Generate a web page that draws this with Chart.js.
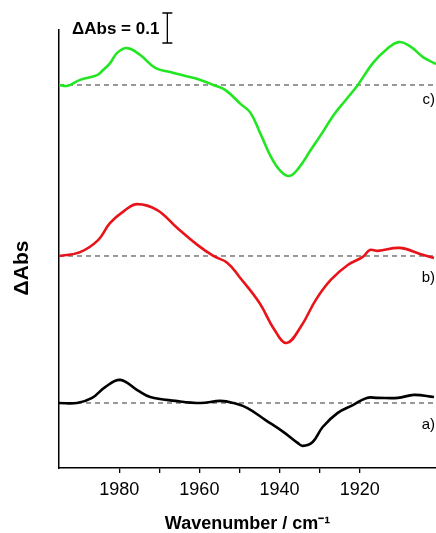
<!DOCTYPE html>
<html>
<head>
<meta charset="utf-8">
<script src="https://cdn.jsdelivr.net/npm/chart.js@4/dist/chart.umd.min.js"></script>
<style>
  html, body { margin: 0; padding: 0; background: #fff; }
  #wrap { width: 436px; height: 533px; position: relative; }
</style>
</head>
<body>
<div id="wrap"><canvas id="spectraCanvas"></canvas></div>
<script>
// trace a) black
const aWavenumber = [1995, 1990.5, 1986.75, 1983.5, 1979.75, 1975.5, 1972.25, 1966, 1959.75, 1954.75, 1951.5, 1948, 1943.5, 1939, 1935.5, 1934.25, 1931.75, 1929.25, 1925.5, 1921.75, 1918.25, 1915.5, 1910.5, 1906.5, 1901.5];
const aDelta = [0, 0, 0.017, 0.053, 0.077, 0.043, 0.02, 0.007, 0, 0.007, 0, -0.017, -0.057, -0.097, -0.133, -0.143, -0.13, -0.08, -0.033, -0.007, 0.017, 0.017, 0.017, 0.027, 0.02];

// trace b) red
const bWavenumber = [1995, 1989.75, 1985.25, 1982.25, 1978.5, 1975.5, 1970.5, 1965.5, 1960.5, 1956.5, 1953, 1950, 1945, 1941.25, 1938.25, 1934.75, 1931, 1927.25, 1923, 1919.25, 1917.5, 1915.5, 1910, 1905, 1901.5];
const bDelta = [0, 0.013, 0.053, 0.11, 0.153, 0.173, 0.153, 0.093, 0.037, 0, -0.023, -0.07, -0.157, -0.247, -0.29, -0.237, -0.147, -0.08, -0.03, -0.003, 0.02, 0.017, 0.027, 0.007, -0.007];

// trace c) green
const cWavenumber = [1995, 1993, 1989.75, 1985.5, 1984, 1982.25, 1980.5, 1978, 1974.75, 1971, 1967.25, 1963.5, 1959.75, 1956.5, 1953.5, 1949.75, 1947.25, 1944.75, 1942.25, 1939.75, 1937.5, 1935.25, 1932.25, 1929.25, 1926.5, 1923.5, 1920.5, 1916.75, 1913.5, 1910.25, 1907.25, 1904.25, 1901];
const cDelta = [0, -0.003, 0.017, 0.033, 0.05, 0.073, 0.107, 0.123, 0.1, 0.057, 0.043, 0.03, 0.017, 0, -0.017, -0.063, -0.093, -0.163, -0.237, -0.287, -0.303, -0.277, -0.217, -0.157, -0.1, -0.05, 0, 0.073, 0.117, 0.143, 0.127, 0.093, 0.07];

// vertical stacking of the traces (in ΔAbs units)
const traceLabels = ['a)', 'b)', 'c)'];
const traceOffsets = [0, 0.49, 1.06];
const scaleBarValue = 0.1;

const xMin = 1901;
const xMax = 1995;

function toPoints(wn, delta, offset) {
    return wn.map((x, i) => ({ x: x, y: delta[i] + offset }));
}

function baseline(offset) {
    return [{ x: xMax, y: offset }, { x: xMin, y: offset }];
}

const FONT = "'Liberation Sans', Arial, sans-serif";

const curveStyle = {
    pointRadius: 0,
    borderWidth: 2.6,
    tension: 0.4,
    fill: false
};

const dashStyle = {
    pointRadius: 0,
    borderWidth: 1,
    borderColor: '#333',
    borderDash: [5, 4],
    fill: false
};

// text and scale bar drawn on top
const annotations = {
    id: 'annotations',
    afterDraw(chart) {
        const ctx = chart.ctx;
        const y = chart.scales.y;
        const area = chart.chartArea;
        ctx.save();
        ctx.fillStyle = '#000';

        // trace labels
        ctx.font = '15px ' + FONT;
        ctx.textAlign = 'right';
        ctx.textBaseline = 'middle';
        const shifts = [22, 22, 15];
        traceLabels.forEach((t, i) => {
            ctx.fillText(t, area.right - 1, y.getPixelForValue(traceOffsets[i]) + shifts[i]);
        });

        // y title
        ctx.save();
        ctx.translate(22, 268);
        ctx.rotate(-Math.PI / 2);
        ctx.font = 'bold 21px ' + FONT;
        ctx.textAlign = 'center';
        ctx.fillText('ΔAbs', 0, 0);
        ctx.restore();

        // scale bar
        ctx.font = 'bold 17px ' + FONT;
        ctx.textAlign = 'left';
        ctx.textBaseline = 'middle';
        const label = 'ΔAbs = ' + scaleBarValue;
        ctx.fillText(label, 72, 29);
        const bx = 72 + ctx.measureText(label).width + 8;
        const h = y.getPixelForValue(0) - y.getPixelForValue(scaleBarValue);
        const bottom = area.top + 13;
        ctx.strokeStyle = '#000';
        ctx.lineWidth = 1.3;
        ctx.beginPath();
        ctx.moveTo(bx, bottom - h);
        ctx.lineTo(bx, bottom);
        ctx.moveTo(bx - 5, bottom - h);
        ctx.lineTo(bx + 5, bottom - h);
        ctx.moveTo(bx - 5, bottom);
        ctx.lineTo(bx + 5, bottom);
        ctx.stroke();
        ctx.restore();
    }
};

document.addEventListener('DOMContentLoaded', function() {
    const ctx = document.getElementById('spectraCanvas').getContext('2d');

    new Chart(ctx, {
        type: 'line',
        data: {
            datasets: [
                Object.assign({ data: toPoints(aWavenumber, aDelta, traceOffsets[0]), borderColor: '#000000' }, curveStyle),
                Object.assign({ data: toPoints(bWavenumber, bDelta, traceOffsets[1]), borderColor: '#e8141a' }, curveStyle),
                Object.assign({ data: toPoints(cWavenumber, cDelta, traceOffsets[2]), borderColor: '#22e622' }, curveStyle),
                Object.assign({ data: baseline(traceOffsets[0]) }, dashStyle),
                Object.assign({ data: baseline(traceOffsets[1]) }, dashStyle),
                Object.assign({ data: baseline(traceOffsets[2]) }, dashStyle)
            ]
        },
        options: {
            responsive: true,
            maintainAspectRatio: false,
            animation: false,
            layout: { padding: { top: 30, right: 0, left: 0, bottom: 0 } },
            plugins: {
                legend: { display: false },
                tooltip: { enabled: false }
            },
            scales: {
                x: {
                    type: 'linear',
                    reverse: true,
                    min: xMin,
                    max: xMax,
                    afterBuildTicks: function(scale) {
                        scale.ticks = scale.ticks.filter(t => t.value % 10 === 0);
                    },
                    afterFit: function(scale) { scale.height = 65; },
                    ticks: {
                        stepSize: 10,
                        autoSkip: false,
                        maxRotation: 0,
                        padding: 6,
                        color: '#000',
                        font: { family: FONT, size: 18 },
                        callback: v => (v % 20 === 0 ? String(v) : '')
                    },
                    grid: {
                        display: true,
                        drawOnChartArea: false,
                        drawTicks: true,
                        tickLength: 5,
                        color: '#000',
                        lineWidth: 1.3
                    },
                    border: { display: true, color: '#000', width: 1.5 },
                    title: {
                        display: true,
                        text: 'Wavenumber / cm⁻¹',
                        color: '#000',
                        font: { family: FONT, size: 18, weight: 'bold' },
                        padding: { top: 0, bottom: -2 }
                    }
                },
                y: {
                    min: -0.2167,
                    max: 1.2433,
                    afterFit: function(scale) { scale.width = 59; },
                    ticks: { display: false },
                    grid: { display: false },
                    border: { display: true, color: '#000', width: 1.5 }
                }
            }
        },
        plugins: [annotations]
    });
});
</script>
</body>
</html>
